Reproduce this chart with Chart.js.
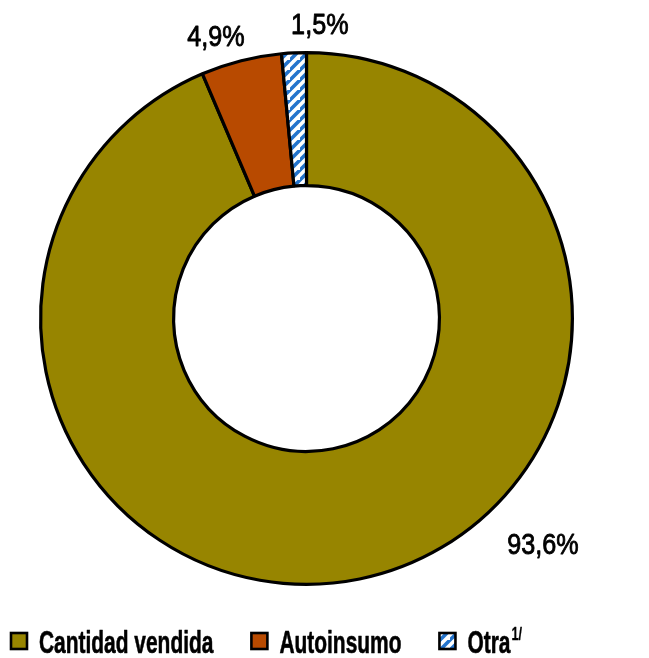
<!DOCTYPE html>
<html>
<head>
<meta charset="utf-8">
<script src="https://cdn.jsdelivr.net/npm/chart.js@4"></script>
<style>
  html, body { margin: 0; padding: 0; background: #ffffff; }
  #wrap { width: 649px; height: 658px; position: relative; }
</style>
</head>
<body>
<div id="wrap"><canvas id="c" width="649" height="658"></canvas></div>
<script>
// ---- data ----
const categories = ["Cantidad vendida", "Autoinsumo", "Otra"];
const shares = [93.6, 4.9, 1.5];
const valueLabels = ["93,6%", "4,9%", "1,5%"];

// ---- styles ----
const OLIVE = "#978500";
const ORANGE = "#B84A00";
const BLUE = "#2474CC";

function stripePattern() {
  const s = 10;
  const pc = document.createElement("canvas");
  pc.width = s; pc.height = s;
  const p = pc.getContext("2d");
  p.fillStyle = "#ffffff";
  p.fillRect(0, 0, s, s);
  p.strokeStyle = BLUE;
  p.lineWidth = 3.6;
  p.beginPath();
  p.moveTo(-1, s + 1); p.lineTo(s + 1, -1);
  p.moveTo(-1 - s, s + 1); p.lineTo(1, -1);
  p.moveTo(s - 1, 2 * s + 1); p.lineTo(2 * s + 1, s - 1);
  p.stroke();
  return document.getElementById("c").getContext("2d").createPattern(pc, "repeat");
}
const pattern = stripePattern();
const fills = [OLIVE, ORANGE, pattern];

// label anchors: angle (deg clockwise from top), radius factor of outer radius
const labelAnchors = [
  { angle: 133.7, rf: 1.23 },
  { angle: 342.2, rf: 1.113 },
  { angle: 2.6, rf: 1.106 }
];

const TXT_FONT = "'Liberation Sans', Arial, sans-serif";

function drawScaled(ctx, text, x, y, font, sx, align, thicken) {
  ctx.save();
  ctx.font = font;
  const w = ctx.measureText(text).width * sx;
  let x0 = x;
  if (align === "center") x0 = x - w / 2;
  ctx.translate(x0, y);
  ctx.scale(sx, 1);
  ctx.textAlign = "left";
  ctx.fillText(text, 0, 0);
  if (thicken) {
    ctx.lineWidth = thicken;
    ctx.strokeStyle = ctx.fillStyle;
    ctx.lineJoin = "round";
    ctx.strokeText(text, 0, 0);
  }
  ctx.restore();
  return w;
}

const labelPlugin = {
  id: "valueLabels",
  afterDatasetsDraw(chart) {
    const ctx = chart.ctx;
    const meta = chart.getDatasetMeta(0);
    const arc0 = meta.data[0];
    const cx = arc0.x, cy = arc0.y, R = arc0.outerRadius;
    ctx.save();
    ctx.fillStyle = "#000";
    ctx.textBaseline = "middle";
    valueLabels.forEach((t, i) => {
      const a = labelAnchors[i];
      const th = a.angle * Math.PI / 180;
      const x = cx + Math.sin(th) * R * a.rf;
      const y = cy - Math.cos(th) * R * a.rf;
      drawScaled(ctx, t, x, y + 1, "30px " + TXT_FONT, 0.84, "center", 0.9);
    });
    ctx.restore();
  }
};

const legendPlugin = {
  id: "customLegend",
  afterDraw(chart) {
    const ctx = chart.ctx;
    const ds = chart.data.datasets[0];
    let x = 11;
    const baseY = 653;
    const box = 16;
    ctx.save();
    ctx.textBaseline = "alphabetic";
    chart.data.labels.forEach((lab, i) => {
      const by = 633;
      ctx.fillStyle = ds.backgroundColor[i];
      ctx.fillRect(x, by, box, box);
      ctx.lineWidth = 2.6;
      ctx.strokeStyle = "#000";
      ctx.strokeRect(x, by, box, box);
      x += box + 12;
      ctx.fillStyle = "#000";
      const w = drawScaled(ctx, lab, x, baseY, "bold 31px " + TXT_FONT, 0.675, "left", 0.6);
      x += w;
      if (i === 2) {
        x += 1;
        x += drawScaled(ctx, "1/", x, 640, "bold 18px " + TXT_FONT, 0.7, "left", 0.3);
      }
      x += 38;
    });
    ctx.restore();
  }
};

new Chart(document.getElementById("c"), {
  type: "doughnut",
  data: {
    labels: categories,
    datasets: [{
      data: shares,
      backgroundColor: fills,
      borderColor: "#000000",
      borderWidth: 3.2,
      borderAlign: "center"
    }]
  },
  options: {
    responsive: false,
    animation: false,
    cutout: "50%",
    rotation: 0,
    layout: { padding: { left: 39, right: 75, top: 51, bottom: 72 } },
    plugins: {
      legend: { display: false },
      tooltip: { enabled: false }
    }
  },
  plugins: [labelPlugin, legendPlugin]
});
</script>
</body>
</html>
